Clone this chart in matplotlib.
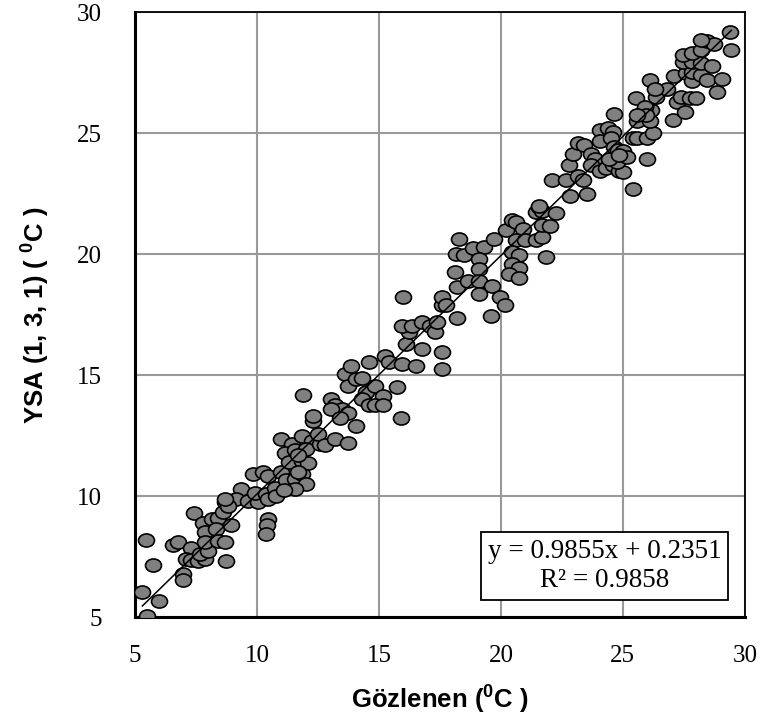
import matplotlib
matplotlib.use("Agg")
import matplotlib.pyplot as plt
from matplotlib.path import Path
import numpy as np

obs = [5.5, 5.3, 6.0, 5.75, 5.45, 6.55, 6.75, 6.95, 6.95, 7.4, 7.3, 7.1, 7.3, 7.6, 7.85, 7.65, 8.0, 7.8,
       8.15, 8.4, 7.85, 8.3, 7.85, 8.4, 8.7, 8.75, 8.6, 8.7, 8.95, 9.35, 9.15, 8.8, 8.7, 9.65, 10.05, 9.9,
       10.35, 10.45, 9.85, 10.25, 10.45, 10.75, 10.8, 10.45, 10.4, 10.35, 11.0, 11.2, 11.55, 11.85, 12.0,
       11.55, 11.1, 11.0, 11.45, 11.85, 12.25, 11.15, 11.55, 12.0, 12.6, 12.5, 11.3, 11.85, 12.1, 11.7,
       12.3, 11.7,
       12.8, 13.2, 13.75, 11.9, 12.3, 13.05, 13.2, 13.5, 13.75, 13.05, 13.4, 14.05, 13.6, 13.85, 13.75,
       14.05, 14.3, 14.45, 14.85, 15.15, 14.3, 14.6, 14.85, 15.15, 14.6, 15.75, 15.9, 15.25, 15.4, 15.95,
       16.1, 16.25, 15.95, 16.35, 16.75, 17.1, 17.3, 16.75, 16.5, 17.6, 17.6, 17.4, 17.6,
       16.0, 18.3, 18.15, 18.5, 18.85, 19.3, 19.7, 19.1, 19.1, 18.1, 18.2, 18.65, 19.1, 19.1, 19.65, 19.95,
       20.15, 17.6, 17.75, 18.2, 19.6, 20.2, 20.45, 20.6, 20.9, 20.6, 21.0, 21.45, 21.7, 20.45, 20.75,
       20.45, 20.75, 20.35, 20.75, 21.85, 21.45, 21.55, 21.7, 22.25, 21.7, 22.0, 22.85, 22.1, 22.65,
       25.4, 23.55, 21.55, 23.15, 23.35, 22.8, 22.95, 23.15, 23.4, 23.7, 23.85, 23.7, 24.05, 24.3, 24.6,
       24.85, 25.0, 24.75, 24.45, 24.05, 24.4, 24.6, 24.05, 24.5, 24.65, 24.8, 25.0, 25.15, 24.85, 26.0,
       25.4, 25.6, 26.0, 26.25, 25.6, 26.1, 25.9, 26.15, 25.55, 25.9, 25.95, 25.6, 26.35, 26.8, 27.2, 27.4,
       27.75, 28.0, 27.05, 27.55, 26.1, 26.3, 27.1, 27.6, 27.85, 27.85, 28.2, 28.45, 27.45, 27.85, 28.2,
       28.65, 27.45, 27.85, 28.2, 28.45, 28.75, 28.2, 29.05, 28.85, 29.4, 29.45, 24.65]
ysa = [5.05, 6.05, 5.65, 7.15, 8.2, 8.0, 8.1, 6.8, 6.55, 9.3, 7.85, 7.4, 7.35, 7.3, 7.4, 7.6, 7.75, 8.9,
       9.05, 9.1, 8.5, 8.65, 8.1, 8.15, 8.1, 7.3, 9.35, 9.75, 8.8, 10.3, 9.9, 9.6, 9.9, 9.8, 9.75, 10.15,
       10.1, 9.9, 10.9, 11.0, 10.85, 10.35, 10.0, 9.05, 8.8, 8.45, 11.0, 10.65, 10.7, 10.9, 10.5,
       10.3, 10.25, 12.35, 12.15, 12.5, 12.3, 11.8, 11.9, 11.95, 12.15, 12.55, 11.4, 11.45, 11.35, 11.0,
       13.1, 11.7,
       12.1, 12.35, 12.2, 14.2, 13.3, 14.0, 13.75, 13.6, 13.45, 13.6, 13.25, 12.9, 15.05, 15.4, 14.55,
       14.85, 14.9, 14.3, 14.55, 14.15, 14.0, 13.75, 13.75, 13.75, 15.55, 14.5, 13.25, 15.8, 15.55, 15.45,
       16.3, 16.8, 17.05, 17.05, 17.2, 17.05, 16.8, 16.1, 15.4, 15.95, 15.25, 17.2, 17.9,
       18.25, 20.65, 20.0, 19.95, 20.25, 20.3, 20.65, 19.8, 19.4, 19.25, 18.65, 18.9, 18.9, 18.35, 18.7, 18.25,
       17.9, 18.25, 17.9, 17.35, 17.45, 21.0, 21.4, 21.35, 21.05, 20.6, 20.6, 20.6, 20.7, 20.1, 19.95,
       19.6, 19.45, 19.2, 19.0, 19.9, 21.75, 21.95, 21.8, 21.7, 21.2, 21.15, 22.4, 23.05, 23.05,
       22.7, 22.5, 22.0, 23.25, 23.05, 23.7, 24.15, 24.6, 24.5, 24.15, 23.95, 23.7, 23.45, 23.55, 23.7,
       23.45, 23.4, 23.8, 23.95, 25.15, 25.2, 25.05, 24.7, 24.8, 24.45, 24.3, 24.25, 24.0, 24.1, 23.95,
       24.8, 24.8, 24.8, 25.0, 25.5, 25.5, 26.05, 25.95, 26.45, 26.1, 25.75, 25.75, 26.5, 26.85, 26.3, 26.5,
       26.45, 26.45, 25.55, 25.9, 27.2, 26.85, 27.35, 27.5, 27.15, 27.55, 27.4, 27.2, 27.95, 27.95, 27.9,
       27.8, 28.25, 28.3, 28.45, 28.8, 28.7, 28.85, 27.25, 26.7, 29.2, 28.45, 25.8]

slope = 0.9855
intercept = 0.2351
r2 = 0.9858

plt.rcParams['mathtext.fontset'] = 'custom'
plt.rcParams['mathtext.rm'] = 'Liberation Sans:bold'
plt.rcParams['mathtext.it'] = 'Liberation Sans:bold'
plt.rcParams['mathtext.bf'] = 'Liberation Sans:bold'

fig = plt.figure(figsize=(7.68, 7.26), dpi=100)
ax = fig.add_axes([0.1758, 0.150, 0.794, 0.833])

# slightly flattened ellipse marker like the Excel one
circ = Path.unit_circle()
ell = Path(circ.vertices * np.array([1.0, 0.82]), circ.codes)

ax.plot(obs, ysa, linestyle='none', marker=ell, markersize=11.5,
        markerfacecolor='#808080', markeredgecolor='black', markeredgewidth=1.2, zorder=3)

xs = np.array([min(obs), max(obs)])
ax.plot(xs, slope * xs + intercept, color='black', lw=1.1, zorder=4)

ax.set_xlim(5, 30)
ax.set_ylim(5, 30)
ax.set_xticks(range(5, 31, 5))
ax.set_yticks(range(5, 31, 5))
ax.grid(True, color='#999999', lw=1.5)
ax.set_axisbelow(True)
ax.tick_params(axis='y', length=0, pad=24, labelsize=18)
ax.tick_params(axis='x', length=0, pad=20, labelsize=18)
for lab in ax.get_xticklabels() + ax.get_yticklabels():
    lab.set_fontfamily('Liberation Serif')

for side in ['left', 'bottom']:
    ax.spines[side].set_linewidth(2.2)
for side in ['top', 'right']:
    ax.spines[side].set_linewidth(1.3)

ax.set_xlabel('Gözlenen ($^{0}$C )', fontfamily='Liberation Sans', fontweight='bold',
              fontsize=18.5, labelpad=12)
ax.set_ylabel('YSA (1, 3, 1) ( $^{0}$C )', fontfamily='Liberation Sans', fontweight='bold',
              fontsize=18.5, labelpad=18)

ax.text(0.962, 0.040, 'y = %.4fx + %.4f\nR² = %.4f' % (slope, intercept, r2),
        transform=ax.transAxes, ha='right', va='bottom', multialignment='center',
        fontfamily='Liberation Serif', fontsize=19.5, linespacing=1.2, zorder=5,
        bbox=dict(boxstyle='square,pad=0.25', facecolor='white', edgecolor='black', lw=1.3))

fig.savefig('out.png', dpi=100)
